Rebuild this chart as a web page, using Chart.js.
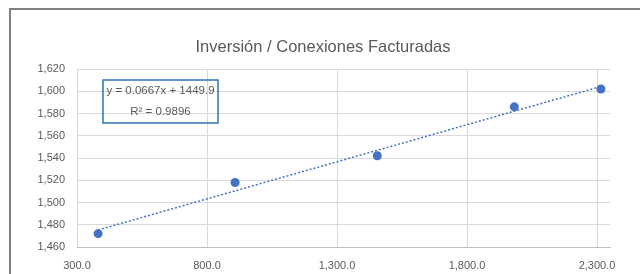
<!DOCTYPE html>
<html>
<head>
<meta charset="utf-8">
<script src="https://cdn.jsdelivr.net/npm/chart.js@4/dist/chart.umd.min.js"></script>
<style>
  html, body { margin: 0; padding: 0; background: #fff; }
  #wrap { width: 640px; height: 274px; position: relative; }
</style>
</head>
<body>
<div id="wrap"><canvas id="myChart"></canvas></div>
<script>
// data
var inversion = [381, 908, 1455, 1982, 2315]
var conexiones = [1472, 1518, 1542, 1586, 1602]
// trendline ends (as Excel draws it: first x to last x)
var trend_x = [381, 2315]
var trend_y = [1475.3, 1604.3]
var x_ticks = [300, 800, 1300, 1800, 2300]
var eq_lines = ['y = 0.0667x + 1449.9', 'R² = 0.9896']
var title = 'Inversión / Conexiones Facturadas'

var grey = '#595959'
var blue = '#4472C4'
var font = '"Liberation Sans", Arial, sans-serif'

var points = inversion.map(function (v, i) { return {x: v, y: conexiones[i]} })
var trend = trend_x.map(function (v, i) { return {x: v, y: trend_y[i]} })

const framePlugin = {
  id: 'frame',
  afterDraw: function (chart) {
    var c = chart.ctx
    var a = chart.chartArea
    c.save()
    // outer chart frame (top and left visible)
    c.strokeStyle = '#7f7f7f'
    c.lineWidth = 2
    c.beginPath()
    c.moveTo(640, 9)
    c.lineTo(10, 9)
    c.lineTo(10, 274)
    c.stroke()
    // title
    c.fillStyle = grey
    c.font = '16.5px ' + font
    c.textAlign = 'center'
    c.textBaseline = 'middle'
    c.fillText(title, 323, 47)
    // equation box
    var bx = a.left + 26, by = a.top + 11, bw = 115, bh = 43
    c.strokeStyle = '#2E75B6'
    c.lineWidth = 1.5
    c.strokeRect(bx, by, bw, bh)
    c.font = '11.5px ' + font
    c.fillText(eq_lines[0], bx + bw / 2, by + 11)
    c.fillText(eq_lines[1], bx + bw / 2, by + 32)
    c.restore()
  }
}

const ctx = document.getElementById('myChart')

new Chart(ctx, {
  type: 'scatter',
  data: {
    datasets: [{
      label: 'trend',
      data: trend,
      showLine: true,
      borderColor: blue,
      borderWidth: 1.5,
      borderDash: [2, 2],
      pointRadius: 0
    }, {
      label: 'data',
      data: points,
      backgroundColor: blue,
      borderColor: blue,
      pointRadius: 4.5,
      borderWidth: 0
    }]
  },
  options: {
    responsive: true,
    maintainAspectRatio: false,
    animation: false,
    layout: { padding: { left: 0, right: 30, top: 69, bottom: 0 } },
    plugins: {
      legend: { display: false },
      tooltip: { enabled: false },
      title: { display: false }
    },
    scales: {
      x: {
        type: 'linear',
        min: 300,
        max: 2350,
        afterBuildTicks: function (s) { s.ticks = x_ticks.map(function (v) { return {value: v} }) },
        afterFit: function (s) { s.height = 27 },
        grid: { color: '#d9d9d9', drawTicks: false },
        border: { color: '#bfbfbf' },
        ticks: {
          color: grey,
          font: { family: font, size: 11 },
          padding: 12,
          maxRotation: 0,
          callback: function (v) { return v.toLocaleString('en-US', {minimumFractionDigits: 1, maximumFractionDigits: 1}) }
        }
      },
      y: {
        min: 1460,
        max: 1620,
        afterFit: function (s) { s.width = 77 },
        grid: { color: '#d9d9d9', drawTicks: false },
        border: { display: false },
        ticks: {
          stepSize: 20,
          color: grey,
          font: { family: font, size: 11 },
          padding: 12,
          callback: function (v) { return v.toLocaleString('en-US') }
        }
      }
    }
  },
  plugins: [framePlugin]
})
</script>
</body>
</html>
